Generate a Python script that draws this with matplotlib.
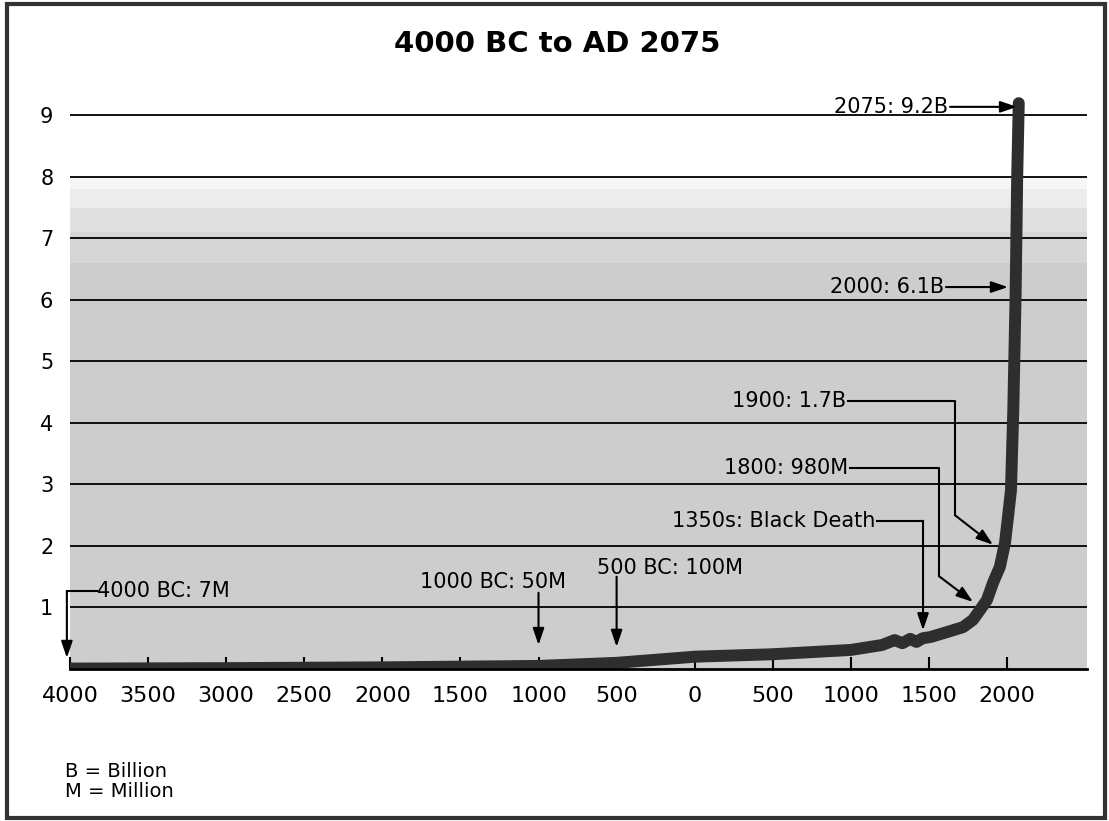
import matplotlib
matplotlib.use("Agg")
import matplotlib.pyplot as plt
from matplotlib.patches import Rectangle

# ── Data (years, negative = BC; population in billions) ─────────────────────
years = [-4000, -3000, -2000, -1000, -500, 0, 500, 1000, 1200, 1280, 1330,
         1380, 1420, 1460, 1510, 1615, 1718, 1782, 1827, 1871, 1910, 1954,
         1987, 2006, 2025, 2040, 2055, 2065, 2075]
pop = [0.007, 0.014, 0.027, 0.05, 0.1, 0.2, 0.24, 0.31, 0.39, 0.47, 0.42,
       0.49, 0.44, 0.5, 0.52, 0.6, 0.68, 0.8, 0.96, 1.12, 1.4, 1.66,
       2.05, 2.47, 2.9, 4.2, 6.1, 8.0, 9.2]

tick_years = list(range(-4000, 2001, 500))
tick_labels = [str(abs(y)) for y in tick_years]
grid_values = list(range(1, 10))

# annotation text, text anchor (year, value), arrow tail, arrow head
straight_notes = [
    ("1000 BC: 50M", (-824, 1.41), (-1000, 1.24), (-1000, 0.39), "right"),
    ("500 BC: 100M", (-625, 1.64), (-500, 1.50), (-500, 0.36), "left"),
]
# annotation text, path points (first = where text ends), arrow head
elbow_notes = [
    ("4000 BC: 7M", [(-3830, 1.27), (-4020, 1.27)], (-4020, 0.18)),
    ("1350s: Black Death", [(1167, 2.41), (1462, 2.41)], (1462, 0.63)),
    ("1800: 980M", [(994, 3.27), (1564, 3.27), (1564, 1.51)], (1782, 1.09)),
    ("1900: 1.7B", [(981, 4.36), (1667, 4.36), (1667, 2.50)], (1910, 2.02)),
    ("2000: 6.1B", [(1609, 6.21)], (2006, 6.21)),
    ("2075: 9.2B", [(1635, 9.14)], (2064, 9.14)),
]

plt.rcParams.update({"font.family": "DejaVu Sans"})

fig = plt.figure(figsize=(11.09, 8.21), dpi=100)
ax = fig.add_axes([70 / 1109, 1 - 669 / 821, (1087 - 70) / 1109, (669 - 97) / 821])
ax.set_xlim(-4000, 2512)
ax.set_ylim(0, 9.3)
ax.set_facecolor("none")

# halftone-ish background, fading out toward the top
ax.axhspan(0, 6.6, color="#cdcdcd", zorder=0, lw=0)
ax.axhspan(6.6, 7.1, color="#d6d6d6", zorder=0, lw=0)
ax.axhspan(7.1, 7.5, color="#e0e0e0", zorder=0, lw=0)
ax.axhspan(7.5, 7.8, color="#ececec", zorder=0, lw=0)
ax.axhspan(7.8, 8.0, color="#f6f6f6", zorder=0, lw=0)

for v in grid_values:
    ax.axhline(v, color="black", lw=1.3, zorder=1)

ax.plot(years, pop, color="#2e2e2e", lw=8.6, solid_capstyle="round",
        solid_joinstyle="round", zorder=3)

for s in ["top", "right", "left"]:
    ax.spines[s].set_visible(False)
ax.spines["bottom"].set_linewidth(2)
ax.spines["bottom"].set_zorder(4)

ax.set_xticks(tick_years)
ax.set_xticklabels(tick_labels, fontsize=16)
ax.tick_params(axis="x", direction="in", length=9, width=1.5, pad=12)
ax.set_yticks(grid_values)
ax.set_yticklabels([str(v) for v in grid_values], fontsize=15)
ax.tick_params(axis="y", length=0, pad=12)

arrow_kw = dict(arrowstyle="-|>,head_length=0.5,head_width=0.17", lw=1.5,
                color="black", mutation_scale=20, shrinkA=0, shrinkB=0)

for label, (tx, ty), tail, head, ha in straight_notes:
    ax.text(tx, ty, label, fontsize=15, ha=ha, va="center", zorder=5)
    ax.annotate("", xy=head, xytext=tail, arrowprops=arrow_kw, zorder=5)

for label, path, head in elbow_notes:
    sx, sy = path[0]
    if label.startswith("4000"):
        ax.text(sx, sy, label, fontsize=15, ha="left", va="center", zorder=5)
    else:
        ax.text(sx - 10, sy, label, fontsize=15, ha="right", va="center", zorder=5)
    if len(path) > 1:
        ax.plot([p[0] for p in path], [p[1] for p in path], color="black",
                lw=1.5, zorder=5, clip_on=False)
    ax.annotate("", xy=head, xytext=path[-1], arrowprops=arrow_kw, zorder=5,
                annotation_clip=False)

fig.text(0.502, 1 - 44 / 821, "4000 BC to AD 2075", ha="center", va="center",
         fontsize=21, fontweight="bold")
fig.text(65 / 1109, 1 - 771 / 821, "B = Billion", ha="left", va="center", fontsize=14)
fig.text(65 / 1109, 1 - 791 / 821, "M = Million", ha="left", va="center", fontsize=14)

fig.patches.append(Rectangle((0.006, 0.004), 0.99, 0.991, transform=fig.transFigure,
                             fill=False, edgecolor="#333333", lw=3))

fig.savefig("out.png", dpi=100)
